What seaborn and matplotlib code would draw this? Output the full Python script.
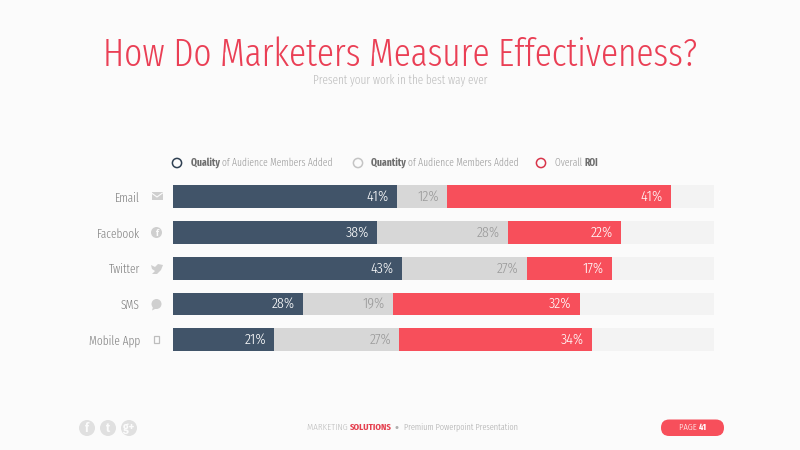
import numpy as np
import matplotlib
matplotlib.use("Agg")
import matplotlib.pyplot as plt
from matplotlib import font_manager as fm
from matplotlib.patches import Circle, FancyBboxPatch, Polygon, Rectangle
import pandas as pd
import seaborn as sns

channels = ["Email", "Facebook", "Twitter", "SMS", "Mobile App"]

# what the bars print
quality_labels = [41, 38, 43, 28, 21]
quantity_labels = [12, 28, 27, 19, 27]
roi_labels = [41, 22, 17, 32, 34]

# what the bars measure on the slide (they do not follow the printed numbers)
quality_len = [41.5, 37.8, 42.4, 24.1, 18.8]
quantity_len = [9.2, 24.1, 23.0, 16.7, 23.1]
roi_len = [41.4, 21.0, 15.7, 34.4, 35.5]
track = [100, 100, 100, 100, 100]

BG = "#fbfbfb"
DARK = "#415469"
GRAY = "#d7d7d7"
RED = "#f74f5b"
TRACK = "#f3f3f3"
ICON = "#cfcfcf"


def has_light(name):
    for f in fm.fontManager.ttflist:
        if f.name == name and f.style == "normal":
            w = f.weight if isinstance(f.weight, int) else fm.weight_dict.get(f.weight, 400)
            if w <= 300:
                return True
    return False


FONT = next((n for n in ["Fira Sans Extra Condensed", "Fira Sans Condensed",
                         "IBM Plex Sans Condensed", "Barlow Condensed",
                         "Roboto"] if has_light(n)), "Roboto")

sns.set_theme(style="white")
plt.rcParams["font.family"] = [FONT, "DejaVu Sans"]

df = pd.DataFrame({"channel": channels, "track": track})
df["quality"] = quality_len
df["quantity"] = df["quality"] + quantity_len
df["roi"] = df["quantity"] + roi_len

fig = plt.figure(figsize=(8, 4.5), dpi=100, facecolor=BG)
rend = fig.canvas.get_renderer()


def size_for(s, width, weight=300):
    # font size that makes s come out width pixels wide
    t = fig.text(0, 0, s, fontsize=20, fontweight=weight)
    w = t.get_window_extent(rend).width
    t.remove()
    return 20 * width / w


ax = fig.add_axes([172.5 / 800, 1 - 357.6 / 450, 541.5 / 800, 178.6 / 450])
ax.set_facecolor("none")

# longest first, every later layer covers the one before
for col, color in [("track", TRACK), ("roi", RED), ("quantity", GRAY), ("quality", DARK)]:
    sns.barplot(data=df, x=col, y="channel", color=color, width=0.64,
                saturation=1, ax=ax, order=channels, linewidth=0)

ax.set_xlim(0, 100)
ax.set_xlabel("")
ax.set_ylabel("")
ax.set_xticks([])
sns.despine(ax=ax, left=True, bottom=True)
ax.tick_params(axis="y", length=0, pad=23.5, labelsize=size_for("Facebook", 43),
               labelcolor="#808080")
for lab in ax.get_yticklabels():
    lab.set_fontweight(300)

val_size = size_for("41%", 22)
for i in range(len(channels)):
    ax.text(df["quality"][i] - 1.5, i, f"{quality_labels[i]}%", color="white",
            ha="right", va="center", fontsize=val_size, fontweight=300)
    ax.text(df["quantity"][i] - 1.5, i, f"{quantity_labels[i]}%", color="#9a9a9a",
            ha="right", va="center", fontsize=val_size, fontweight=300)
    ax.text(df["roi"][i] - 1.5, i, f"{roi_labels[i]}%", color="white",
            ha="right", va="center", fontsize=val_size, fontweight=300)

# overlay in slide pixels for the slide furniture
ov = fig.add_axes([0, 0, 1, 1])
ov.set_xlim(0, 800)
ov.set_ylim(450, 0)
ov.axis("off")
ov.patch.set_alpha(0)


def runs(x, y, parts, width):
    # text pieces side by side, sized so that together they span width pixels
    total = 0
    for s, color, weight in parts:
        t = fig.text(0, 0, s.replace(" ", "\u00a0"), fontsize=20, fontweight=weight)
        total += t.get_window_extent(rend).width
        t.remove()
    size = 20 * width / total
    for s, color, weight in parts:
        s = s.replace(" ", "\u00a0")
        t = ov.text(x, y, s, color=color, fontweight=weight, fontsize=size,
                    ha="left", va="center")
        x += t.get_window_extent(rend).width


ov.text(400, 66, "How Do Marketers Measure Effectiveness?", color="#ea3f55",
        fontsize=size_for("How Do Marketers Measure Effectiveness?", 594), fontweight=300,
        ha="center", va="baseline")
ov.text(400, 83, "Present your work in the best way ever", color="#bcbcbc",
        fontsize=size_for("Present your work in the best way ever", 174), fontweight=300,
        ha="center", va="baseline")

# legend
for cx, color in [(177, "#2f4052"), (358, "#c4c4c4"), (541, "#d8354a")]:
    ov.add_patch(Circle((cx, 163), 4.6, fill=False, ec=color, lw=1.1))
runs(191, 163, [("Quality ", "#6e6e6e", "bold"),
                ("of Audience Members Added", "#989898", 300)], 141)
runs(371, 163, [("Quantity ", "#6e6e6e", "bold"),
                ("of Audience Members Added", "#989898", 300)], 147)
runs(555, 163, [("Overall ", "#989898", 300), ("ROI", "#6e6e6e", "bold")], 43)

# channel icons
ov.add_patch(Rectangle((151.5, 192), 11, 8, color=ICON, lw=0))
ov.plot([151.5, 157, 162.5], [193, 197, 193], color=BG, lw=0.8)
ov.add_patch(Circle((156.5, 232.5), 5.5, color=ICON, lw=0))
ov.text(157, 233, "f", color=BG, fontsize=7, fontweight="bold", ha="center", va="center")
ov.add_patch(Polygon([(151, 265), (155, 267), (158, 264), (163, 265), (161, 270),
                      (157, 274), (152, 274), (155, 271), (152, 269)], color=ICON, lw=0))
ov.add_patch(Circle((156.5, 304), 5, color=ICON, lw=0))
ov.add_patch(Polygon([(153, 307), (152, 310.5), (157, 308)], color=ICON, lw=0))
ov.add_patch(Rectangle((154, 335.5), 5, 7, fill=False, ec="#bdbdbd", lw=0.9))

# footer
for cx, s in [(87, "f"), (108, "t"), (129, "g+")]:
    ov.add_patch(Circle((cx, 428), 8, color="#e0e0e0", lw=0))
    ov.text(cx, 428, s, color=BG, fontsize=9, fontweight="bold", ha="center", va="center")

runs(307, 427, [("MARKETING ", "#bdbdbd", 300), ("SOLUTIONS", "#e5404f", "bold")], 84)
ov.add_patch(Circle((397, 427.5), 1.5, color="#b0b0b0", lw=0))
runs(404, 427, [("Premium Powerpoint Presentation", "#ababab", 300)], 114)

ov.add_patch(FancyBboxPatch((661, 419.5), 63, 16.5, boxstyle="round,pad=0,rounding_size=8.2",
                            color=RED, lw=0))
runs(679, 427.5, [("PAGE ", "white", 300), ("41", "white", "bold")], 28)

fig.savefig("out.png", dpi=100, facecolor=BG)
